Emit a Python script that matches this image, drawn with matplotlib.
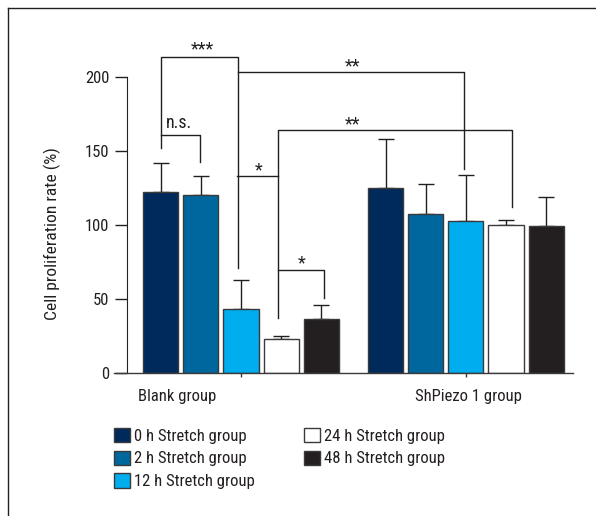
import matplotlib
matplotlib.use("Agg")
import matplotlib.pyplot as plt
from matplotlib.lines import Line2D

plt.rcParams["font.family"] = ["Roboto Condensed", "DejaVu Sans"]

# ── Data ─────────────────────────────────────────────────────────────
groups = ["Blank group", "ShPiezo 1 group"]
series = ["0 h Stretch group", "2 h Stretch group", "12 h Stretch group",
          "24 h Stretch group", "48 h Stretch group"]
blank_mean = [122.5, 120.3, 43.0, 22.7, 36.5]
blank_err = [19.5, 12.7, 20.0, 2.3, 9.5]
piezo_mean = [124.8, 107.4, 102.5, 100.2, 99.3]
piezo_err = [33.2, 20.6, 31.5, 3.2, 19.7]
colors = ["#002a5c", "#00669e", "#00adef", "#ffffff", "#231f20"]

# significance brackets: (points of the line, label, label x, label y)
brackets = [
    ([(0, 152), (0, 213.5), (1.93, 213.5), (1.93, 71)], "***", 1.05, 212.5),
    ([(0, 161), (0.97, 161), (0.97, 142.6)], "n.s.", 0.45, 163),
    ([(1.93, 203.2), (7.56, 203.2), (7.56, 137.6)], "**", 4.77, 201),
    ([(1.9, 133.1), (2.93, 133.1)], "*", 2.45, 131),
    ([(2.93, 37.2), (2.93, 164.2), (8.74, 164.2), (8.74, 112.2)], "**", 4.77, 162),
    ([(2.93, 69.6), (4.07, 69.6), (4.07, 50.7)], "*", 3.5, 68),
]

# ── Figure ───────────────────────────────────────────────────────────
fig = plt.figure(figsize=(5.96, 5.16), dpi=100)
ax = fig.add_axes([126.5 / 596, 1 - 373 / 516, 446.2 / 596, 296 / 516])

gap = 1.6
width = 0.875
pos_blank = [i for i in range(5)]
pos_piezo = [4 + gap + i for i in range(5)]

for i in range(5):
    for pos, m, e in ((pos_blank, blank_mean, blank_err),
                      (pos_piezo, piezo_mean, piezo_err)):
        ax.bar(pos[i], m[i], width=width, color=colors[i],
               edgecolor="#3a3a3a", linewidth=1.0, zorder=3,
               label=series[i] if pos is pos_blank else None)
        ax.errorbar(pos[i], m[i], yerr=[[0], [e[i]]], fmt="none",
                    ecolor="#231f20", elinewidth=1.0, capsize=5.8,
                    capthick=1.0, zorder=2)

for pts, label, lx, ly in brackets:
    xs = [p[0] for p in pts]
    ys = [p[1] for p in pts]
    ax.plot(xs, ys, color="#231f20", lw=1.0, clip_on=False, zorder=4)
    ax.text(lx, ly, label, ha="center", va="bottom", fontsize=13,
            color="#231f20", clip_on=False)

ax.set_xlim(-0.85, 10.26)
ax.set_ylim(0, 200)

ax.spines["top"].set_visible(False)
ax.spines["right"].set_visible(False)
ax.spines["bottom"].set_visible(False)
ax.spines["left"].set_bounds(0, 200)
ax.spines["left"].set_color("#231f20")

# x axis line sticks out past the y axis
ax.plot([-1.16, 10.26], [0, 0], color="#3a3a3a", lw=1.0, clip_on=False, zorder=5)

ax.set_yticks([0, 50, 100, 150, 200])
ax.tick_params(axis="y", direction="out", length=9, width=1.0,
               labelsize=12, pad=3.5, colors="#231f20")
ax.set_xticks([pos_blank[2], pos_piezo[2]])
ax.set_xticklabels(["", ""])
ax.tick_params(axis="x", direction="out", length=3, width=1.0, colors="#3a3a3a")

ax.text(0.42, -11, groups[0], ha="center", va="top", fontsize=12, color="#231f20")
ax.text(7.67, -11, groups[1], ha="center", va="top", fontsize=12, color="#231f20")

ax.set_ylabel("Cell proliferation rate (%)", fontsize=12.6, color="#231f20")
ax.yaxis.set_label_coords(-65.5 / 446.2, (373 - 234) / 296)

leg = fig.legend(loc="upper left", bbox_to_anchor=(114.5 / 596, 1 - 428 / 516),
                 ncol=2, frameon=False, fontsize=12, handlelength=0.95,
                 handleheight=0.95, handletextpad=0.2, labelspacing=0.4,
                 columnspacing=3.0, borderaxespad=0, borderpad=0)
for h in leg.legend_handles:
    h.set_edgecolor("#3a3a3a")
for t in leg.get_texts():
    t.set_color("#231f20")

# partial frame around the panel (top and left edges only)
fig.add_artist(Line2D([8 / 596, 8 / 596], [0, 1 - 8 / 516], color="#231f20", lw=1.0))
fig.add_artist(Line2D([8 / 596, 1], [1 - 8 / 516, 1 - 8 / 516], color="#231f20", lw=1.0))

fig.savefig("out.png", dpi=100)
